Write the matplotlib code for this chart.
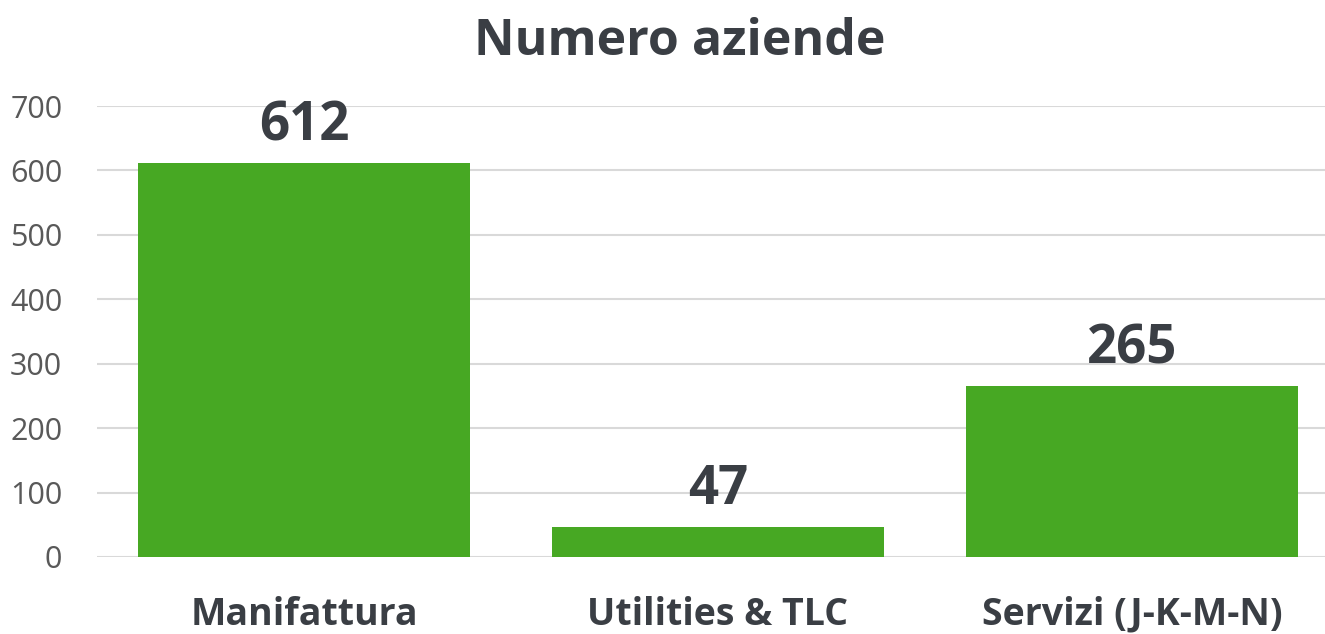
import matplotlib.pyplot as plt

categories = ['Manifattura', 'Utilities & TLC', 'Servizi (J-K-M-N)']
values = [612, 47, 265]
yticks = [0, 100, 200, 300, 400, 500, 600, 700]

green = '#47a823'
dark = '#3a3e44'

plt.rcParams['font.family'] = ['Open Sans', 'DejaVu Sans']

fig = plt.figure(figsize=(13.25, 6.34), dpi=100)
W, H = 1325, 634
ax = fig.add_axes([97 / W, 77 / H, (1339 - 97) / W, (557 - 106) / H])

x = range(len(categories))
bars = ax.bar(x, values, width=0.8, color=green, zorder=3)
for b, v in zip(bars, values):
    ax.text(b.get_x() + b.get_width() / 2, v + 15, str(v), ha='center', va='bottom',
            fontsize=38, fontweight='bold', color=dark)

ax.set_xlim(-0.5, 2.5)
ax.set_ylim(0, 700)
ax.set_yticks(yticks)
ax.set_yticklabels([str(t) for t in yticks], fontsize=22, color='#595959')
ax.set_xticks(list(x))
ax.set_xticklabels(categories, fontsize=27, fontweight='bold', color=dark)
ax.tick_params(axis='both', length=0)
ax.tick_params(axis='y', pad=25)
ax.tick_params(axis='x', pad=28)

ax.grid(axis='y', color='#d9d9d9', linewidth=1.5, zorder=0)
for s in ax.spines.values():
    s.set_visible(False)

fig.text(680 / W, 1 - 42 / H, 'Numero aziende', ha='center', va='center',
         fontsize=36, fontweight='bold', color=dark)

fig.savefig('out.png', dpi=100)
